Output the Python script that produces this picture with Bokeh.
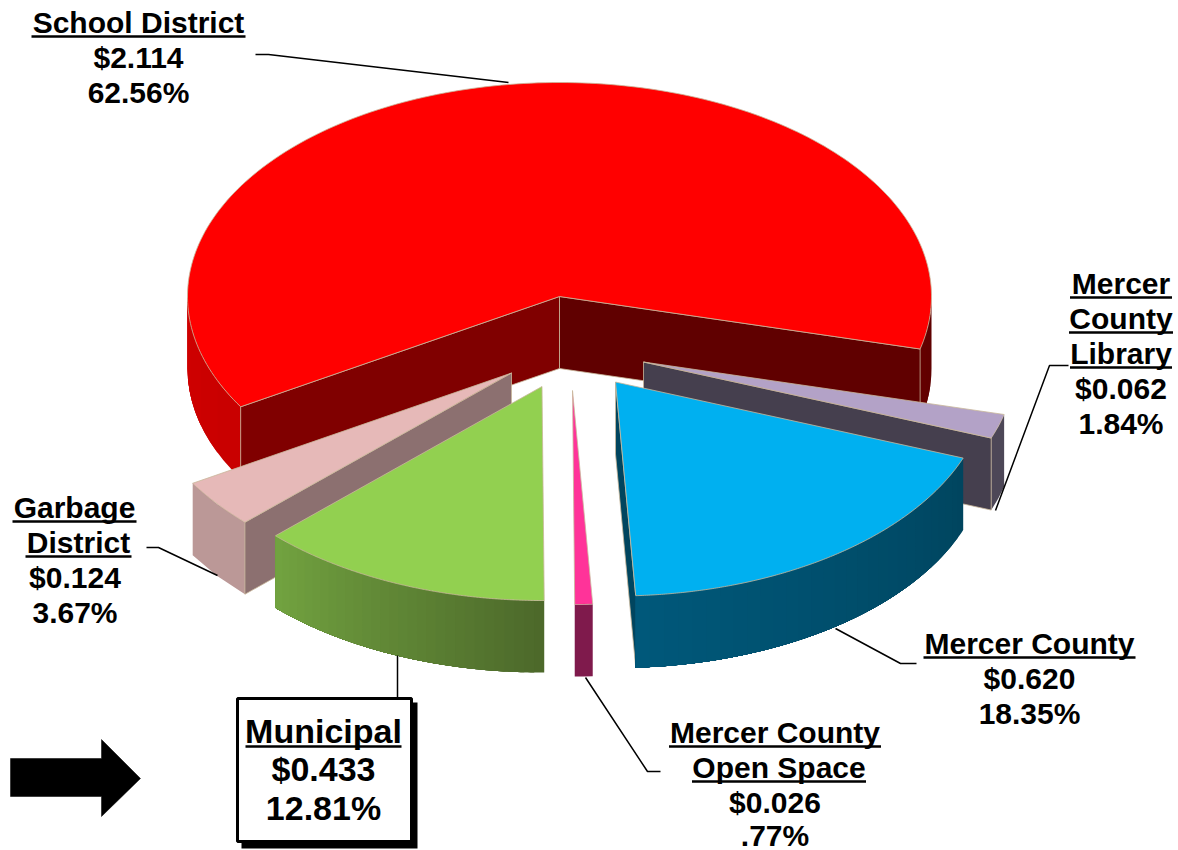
from bokeh.plotting import figure
from bokeh.embed import file_html
from bokeh.resources import INLINE
from bokeh.core.properties import value
import numpy as np

# ---- data -------------------------------------------------------
names = ["Mercer County Library", "Mercer County", "Mercer County Open Space",
         "Municipal", "Garbage District", "School District"]
amounts = [0.062, 0.620, 0.026, 0.433, 0.124, 2.114]
percents = [1.84, 18.35, 0.77, 12.81, 3.67, 62.56]
amount_labels = ["$0.062", "$0.620", "$0.026", "$0.433", "$0.124", "$2.114"]
percent_labels = ["1.84%", "18.35%", ".77%", "12.81%", "3.67%", "62.56%"]
top_colors = ["#b3a2c7", "#00b0f0", "#ff3399", "#92d050", "#e6b9b8", "#ff0000"]

# ---- pie geometry (pixels, y down) ------------------------------
CX, CY, RX, RY, DEPTH = 559, 296, 372, 214, 72
START = 14.2
offsets = [(84, 65.5), (56, 85.5), (13, 94), (-17.5, 90), (-48, 76.5), (0, 0)]

W, H = 1178, 850
p = figure(width=W, height=H, x_range=(0, W), y_range=(H, 0),
           output_backend="svg", toolbar_location=None, min_border=0)
p.axis.visible = False
p.grid.visible = False
p.outline_line_color = None
p.background_fill_color = "white"
p.border_fill_color = "white"

EDGE = "#c9b79a"

def hex2rgb(c):
    return np.array([int(c[i:i + 2], 16) for i in (1, 3, 5)], float)

def rgb2hex(v):
    return "#%02x%02x%02x" % tuple(int(round(x)) for x in v)

def pt(cx, cy, t):
    r = np.radians(t)
    return cx + RX * np.cos(r), cy + RY * np.sin(r)

def outer_wall(cx, cy, t0, t1, c0, c1=None, n=40):
    """Outer curved wall; painted in overlapping bands so the colour can run across it."""
    c1 = c1 or c0
    ts = np.linspace(t0, t1, n + 1)
    a, b = hex2rgb(c0), hex2rgb(c1)
    for i in range(n):
        arc = np.linspace(ts[i], t1, max(3, (n - i) * 3))
        ax = cx + RX * np.cos(np.radians(arc))
        ay = cy + RY * np.sin(np.radians(arc))
        xs = list(ax) + list(ax[::-1])
        ys = list(ay) + list(ay[::-1] + DEPTH)
        p.patch(xs, ys, fill_color=rgb2hex(a + (b - a) * (i + .5) / n), line_color=None)

def cut_wall(cx, cy, t, color):
    x, y = pt(cx, cy, t)
    p.patch([cx, x, x, cx], [cy, y, y + DEPTH, cy + DEPTH],
            fill_color=color, line_color=EDGE, line_width=0.8)

def top_face(cx, cy, t0, t1, color):
    ts = np.linspace(t0, t1, 200)
    xs = [cx] + list(cx + RX * np.cos(np.radians(ts)))
    ys = [cy] + list(cy + RY * np.sin(np.radians(ts)))
    p.patch(xs, ys, fill_color=color, line_color=EDGE, line_width=0.8)

# slice angles, clockwise on screen from the right, from the values
edges = [START]
for v in percents:
    edges.append(edges[-1] + v * 3.6)
sl = {n: (edges[i], edges[i + 1], CX + offsets[i][0], CY + offsets[i][1], top_colors[i])
      for i, n in enumerate(names)}

# School district
t0, t1, cx, cy, c = sl["School District"]
outer_wall(cx, cy, 360, t1, "#5e0000", "#640000", 3)
outer_wall(cx, cy, t0, 180, "#c80000", "#d00000", 4)
cut_wall(cx, cy, t1, "#600000")
cut_wall(cx, cy, t0, "#800000")
top_face(cx, cy, t0, t1, c)

# Library
t0, t1, cx, cy, c = sl["Mercer County Library"]
outer_wall(cx, cy, t0, t1, "#4d4757", "#4d4757", 1)
cut_wall(cx, cy, t1, "#453f4e")
top_face(cx, cy, t0, t1, c)

# Garbage
t0, t1, cx, cy, c = sl["Garbage District"]
outer_wall(cx, cy, t0, t1, "#bb9897", "#bb9897", 1)
cut_wall(cx, cy, t0, "#8c7070")
top_face(cx, cy, t0, t1, c)

# Municipal
t0, t1, cx, cy, c = sl["Municipal"]
outer_wall(cx, cy, t0, t1, "#4c682a", "#72a340", 30)
top_face(cx, cy, t0, t1, c)

# Mercer County
t0, t1, cx, cy, c = sl["Mercer County"]
cut_wall(cx, cy, t1, "#00455f")
outer_wall(cx, cy, t0, t1, "#00455f", "#00587a", 30)
top_face(cx, cy, t0, t1, c)

# Open Space
t0, t1, cx, cy, c = sl["Mercer County Open Space"]
outer_wall(cx, cy, t0, t1, "#7f1a4c", "#7f1a4c", 1)
top_face(cx, cy, t0, t1, c)

# ---- leader lines -----------------------------------------------
leaders = [
    ([255, 268, 508], [54, 54, 82]),
    ([146, 158, 217], [547, 547, 575]),
    ([1068, 1049, 995], [365, 365, 510]),
    ([916, 900, 835], [663, 663, 628]),
    ([660, 647, 585], [771, 771, 677]),
    ([397, 397], [655, 698]),
]
for lx, ly in leaders:
    p.line(lx, ly, line_color="black", line_width=1.5)

# ---- arrow ------------------------------------------------------
p.patch([10, 101, 101, 140, 101, 101, 10], [758, 758, 739, 778, 816, 796, 796],
        fill_color="black", line_color="black", line_width=0.5)

# ---- Municipal box ---------------------------------------------
p.quad(left=[241], right=[417], top=[702], bottom=[848], fill_color="black", line_color=None)
p.quad(left=[237], right=[411], top=[698], bottom=[841], fill_color="white",
       line_color="black", line_width=3)

# ---- labels -----------------------------------------------------
FONT = value("Liberation Sans")
label_rows = [
    # text, centre x, centre y, size, underline half width (0 = none)
    ("School District", 138, 22, 30, 107),
    (amount_labels[5], 138, 57, 30, 0),
    (percent_labels[5], 138, 92, 30, 0),
    ("Garbage", 74, 507, 30, 62),
    ("District", 78, 542, 30, 53),
    (amount_labels[4], 74.5, 577, 30, 0),
    (percent_labels[4], 74.5, 612, 30, 0),
    ("Mercer", 1120.5, 283, 30, 51),
    ("County", 1120.5, 318, 30, 52),
    ("Library", 1120.5, 353, 30, 51),
    (amount_labels[0], 1120.5, 388, 30, 0),
    (percent_labels[0], 1120.5, 423, 30, 0),
    ("Mercer County", 1029, 643, 30, 106),
    (amount_labels[1], 1029, 678, 30, 0),
    (percent_labels[1], 1029, 713, 30, 0),
    ("Mercer County", 774.5, 732, 30, 106),
    ("Open Space", 778.5, 767, 30, 87),
    (amount_labels[2], 774.5, 802, 30, 0),
    (percent_labels[2], 774.5, 834.5, 30, 0),
    ("Municipal", 323, 730, 34, 78),
    (amount_labels[3], 323, 768, 34, 0),
    (percent_labels[3], 323, 807, 34, 0),
]
for txt, x, y, size, hw in label_rows:
    p.text([x], [y], text=[txt], text_font=FONT, text_font_size=f"{size}px",
           text_font_style="bold", text_color="black", text_align="center",
           text_baseline="middle")
    if hw:
        uy = y + size * 0.47
        p.segment([x - hw], [uy], [x + hw], [uy], line_color="black", line_width=2.5)

open("out.html", "w").write(file_html(p, INLINE))
